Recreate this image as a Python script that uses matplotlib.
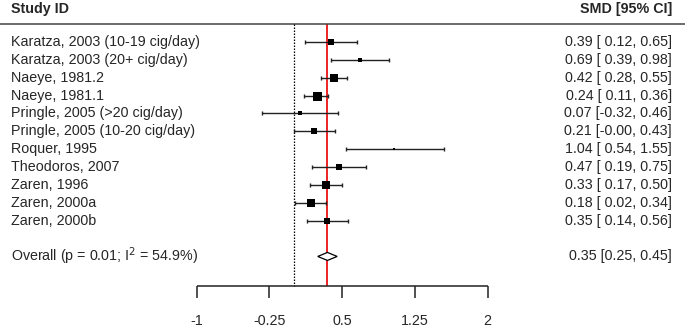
import matplotlib
matplotlib.use("Agg")
import matplotlib.pyplot as plt
from matplotlib.patches import Polygon

plt.rcParams['font.family'] = ['Liberation Sans', 'DejaVu Sans']

studies = ["Karatza, 2003 (10-19 cig/day)", "Karatza, 2003 (20+ cig/day)", "Naeye, 1981.2",
           "Naeye, 1981.1", "Pringle, 2005 (>20 cig/day)", "Pringle, 2005 (10-20 cig/day)",
           "Roquer, 1995", "Theodoros, 2007", "Zaren, 1996", "Zaren, 2000a", "Zaren, 2000b"]
smd = [0.39, 0.69, 0.42, 0.24, 0.07, 0.21, 1.04, 0.47, 0.33, 0.18, 0.35]
ci_lo = [0.12, 0.39, 0.28, 0.11, -0.32, -0.0, 0.54, 0.19, 0.17, 0.02, 0.14]
ci_hi = [0.65, 0.98, 0.55, 0.36, 0.46, 0.43, 1.55, 0.75, 0.50, 0.34, 0.56]
weights = [8.0, 6.5, 11.0, 12.0, 5.8, 9.5, 3.5, 7.2, 10.5, 11.0, 9.5]
overall_est, overall_lo, overall_hi = 0.35, 0.25, 0.45
overall_label = "Overall (p = 0.01; I$^2$ = 54.9%)"
xticks = [-1, -0.25, 0.5, 1.25, 2]
xtick_labels = ["-1", "-0.25", "0.5", "1.25", "2"]

fig = plt.figure(figsize=(6.85, 3.27), dpi=100)
ax = fig.add_axes([0, 0, 1, 1])
# pixel mapping: x_px = 293.5 + 97*v ; row_px = 42 + 17.87*row
ax.set_xlim(-293.5 / 97, (685 - 293.5) / 97)
rowpx = 17.87
ax.set_ylim((327 - 42) / rowpx, -42 / rowpx)
ax.axis('off')

def py(px):
    return (px - 42) / rowpx

fs = 10.3
tc = '#262626'
ytr = ax.get_yaxis_transform()

# header
ax.text(11 / 685, py(9), "Study ID", transform=ytr, ha='left', va='center', fontsize=fs, fontweight='bold', color=tc)
ax.text(672 / 685, py(9), "SMD [95% CI]", transform=ytr, ha='right', va='center', fontsize=fs, fontweight='bold', color=tc)
ax.axhline(py(24), color='#444444', lw=1.1)

y_top = py(24)
y_axis = py(286)
ax.vlines(0, y_top, y_axis, colors='black', linestyles=(0, (1.2, 1.2)), lw=0.9)
ax.vlines(overall_est, y_top, y_axis, colors='#ee2222', lw=1.4, zorder=1)

wmin, wmax = min(weights), max(weights)
for i, (name, e, lo, hi, w) in enumerate(zip(studies, smd, ci_lo, ci_hi, weights)):
    ax.errorbar([e], [i], xerr=[[e - lo], [hi - e]], fmt='none', ecolor='#222222',
                elinewidth=1.0, capsize=1.5, capthick=1.0, zorder=2)
    size_px = 2 + 7 * (w - wmin) / (wmax - wmin)
    ax.plot([e], [i], marker='s', color='black', markersize=size_px * 0.72, mew=0, zorder=3)
    ax.text(11 / 685, i, name, transform=ytr, ha='left', va='center', fontsize=fs, color=tc)
    ax.text(672 / 685, i, f"{e:.2f} [{lo:5.2f}, {hi:.2f}]", transform=ytr, ha='right',
            va='center', fontsize=fs, color=tc)

yo = len(studies) + 1
h = 4 / rowpx
ax.add_patch(Polygon([[overall_lo, yo], [overall_est, yo - h], [overall_hi, yo], [overall_est, yo + h]],
                     closed=True, facecolor='white', edgecolor='black', lw=0.9, zorder=3))
ax.text(11 / 685, yo, overall_label, transform=ytr, ha='left', va='center', fontsize=fs, color=tc)
ax.text(672 / 685, yo, f"{overall_est:.2f} [{overall_lo:.2f}, {overall_hi:.2f}]", transform=ytr,
        ha='right', va='center', fontsize=fs, color=tc)

# x axis
ax.hlines(y_axis, xticks[0], xticks[-1], colors='#222222', lw=1.1)
ax.vlines(xticks, y_axis, py(298), colors='#222222', lw=1.1)
for t, lab in zip(xticks, xtick_labels):
    ax.text(t, py(321), lab, ha='center', va='center', fontsize=fs, color=tc)

fig.savefig("out.png", dpi=100)
